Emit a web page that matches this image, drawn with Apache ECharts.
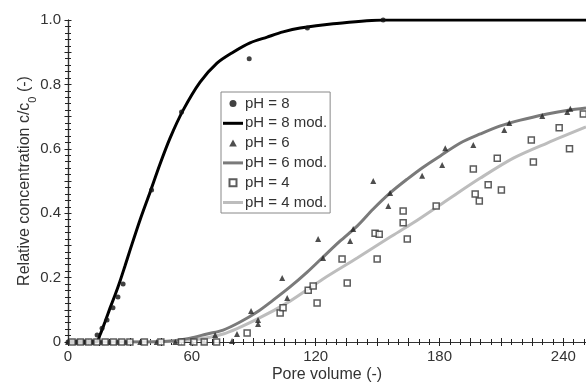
<!DOCTYPE html>
<html>
<head>
<meta charset="utf-8">
<script src="https://cdn.jsdelivr.net/npm/echarts@6/dist/echarts.min.js"></script>
<style>
  html, body { margin: 0; padding: 0; background: #fff; }
  #chart { width: 586px; height: 383px; }
</style>
</head>
<body>
<div id="chart"></div>
<script>
// measured points, pH = 8
const ph8X = [0, 1.5, 3, 4.5, 6, 7.5, 9, 10.5, 12, 14.1, 16.5, 18.9, 21.8, 24.2, 26.7, 40.5, 55, 87.8, 116, 152.7];
const ph8Y = [0, 0, 0, 0, 0, 0, 0, 0, 0, 0.022, 0.043, 0.068, 0.106, 0.14, 0.18, 0.472, 0.714, 0.88, 0.975, 1.0];

// model curve, pH = 8
const ph8ModX = [0, 13.6, 15.5, 17.9, 20.4, 22.8, 25.2, 27.6, 30.1, 34.9, 39.8, 44.6, 49.5, 55.8, 64, 72.2, 80, 88.2, 96.5, 104.2, 112.5, 128.5, 152.7, 185, 251];
const ph8ModY = [0, 0, 0.022, 0.062, 0.106, 0.146, 0.189, 0.236, 0.286, 0.379, 0.466, 0.553, 0.634, 0.72, 0.807, 0.866, 0.9, 0.929, 0.947, 0.963, 0.975, 0.988, 1.0, 1.0, 1.0];

// measured points, pH = 6
const ph6X = [0, 4, 8, 12, 16, 20, 24, 28, 35, 43, 52, 60, 66,
  71.3, 79.5, 81.9, 88.7, 92.1, 92.1, 103.8, 106.2, 121.2, 123.6, 136.7, 138.2,
  147.9, 155.2, 156.1, 171.6, 181.3, 182.8, 196.4, 211.4, 213.8, 229.8, 241.9, 243.4];
const ph6Y = [0, 0, 0, 0, 0, 0, 0, 0, 0, 0, 0, 0, 0,
  0.022, 0.003, 0.025, 0.096, 0.056, 0.068, 0.199, 0.137, 0.32, 0.261, 0.314, 0.351,
  0.5, 0.422, 0.463, 0.516, 0.55, 0.602, 0.612, 0.658, 0.68, 0.702, 0.714, 0.724];

// model curve, pH = 6
const ph6ModX = [0, 35, 49.5, 59.2, 67.4, 75.2, 83.4, 91.6, 99.4, 107.6, 115.9, 123.6, 131.9, 140.1, 147.9, 156.1, 164.4, 172.1, 180.4, 190.1, 199.8, 209.5, 219.2, 232.2, 242.4, 251];
const ph6ModY = [0, 0, 0.003, 0.012, 0.025, 0.037, 0.062, 0.093, 0.13, 0.171, 0.217, 0.264, 0.314, 0.36, 0.413, 0.463, 0.506, 0.543, 0.578, 0.618, 0.646, 0.671, 0.689, 0.708, 0.72, 0.727];

// measured points, pH = 4
const ph4X = [2, 6, 10, 14, 18, 22, 26, 30, 37, 45, 55, 61, 66, 72,
  86.8, 102.8, 104.2, 116.4, 118.8, 120.7, 132.8, 135.3, 148.8, 150.8, 149.8, 162.4, 162.4,
  164.4, 178.4, 196.4, 197.3, 199.3, 203.6, 208, 210, 224.5, 225.5, 238, 243, 249.7];
const ph4Y = [0, 0, 0, 0, 0, 0, 0, 0, 0, 0, 0, 0, 0, 0,
  0.028, 0.09, 0.106, 0.161, 0.174, 0.121, 0.258, 0.183, 0.338, 0.335, 0.258, 0.407, 0.37,
  0.32, 0.422, 0.537, 0.46, 0.438, 0.488, 0.571, 0.472, 0.627, 0.559, 0.665, 0.6, 0.708];

// model curve, pH = 4
const ph4ModX = [0, 39.8, 59.2, 75.2, 91.6, 107.6, 123.6, 140.1, 156.1, 167.3, 183.8, 199.8, 215.8, 232.2, 251];
const ph4ModY = [0, 0, 0.006, 0.025, 0.071, 0.127, 0.196, 0.261, 0.326, 0.37, 0.441, 0.509, 0.571, 0.618, 0.668];

const xLabels = [0, 60, 120, 180, 240];
const yLabels = [0, 0.2, 0.4, 0.6, 0.8, 1.0];

const zip = (xs, ys) => xs.map((x, i) => [x, ys[i]]);

const font = "Liberation Sans, Arial, sans-serif";
const ink = "#333";

const chart = echarts.init(document.getElementById("chart"), null, { renderer: "canvas" });

// legend swatches
const lineIcon = "path://M0,0 L20,0 L20,3 L0,3 Z";
const triIcon = "path://M3,0 L6,5.5 L0,5.5 Z";
const boxIcon = "path://M0,0 L6,0 L6,6 L0,6 Z";

const gridBox = { left: 68, top: 20, right: 0, bottom: 41, containLabel: false, outerBoundsMode: "none" };
const xRange = { type: "value", min: 0, max: 251, interval: 15, splitLine: { show: false } };
const yRange = { type: "value", min: 0, max: 1, interval: 0.1, splitLine: { show: false } };

// outer half of the ticks on the main axes, inner half on a twin axis in grid 1
// (the twin needs its axis line shown, otherwise v6 drops the ticks)
const tickStyle = { color: "#222", width: 1 };

const option = {
  animation: false,
  backgroundColor: "#fff",
  grid: [gridBox, { ...gridBox }],
  xAxis: [
    {
      ...xRange,
      gridIndex: 0,
      name: "Pore volume (-)",
      nameLocation: "middle",
      nameGap: 25,
      nameMoveOverlap: false,
      nameTextStyle: { fontFamily: font, fontSize: 16, color: ink },
      axisLine: { show: true, lineStyle: { color: ink, width: 1.2 } },
      axisTick: { show: true, length: 4, lineStyle: tickStyle },
      minorTick: { show: true, splitNumber: 3, length: 3, lineStyle: tickStyle },
      axisLabel: {
        margin: 7,
        fontFamily: font,
        fontSize: 15,
        color: ink,
        showMaxLabel: false,
        formatter: (v) => (xLabels.includes(v) ? String(v) : ""),
      },
    },
    {
      ...xRange,
      gridIndex: 1,
      position: "bottom",
      axisLine: { show: true, lineStyle: { color: ink, width: 1.2 } },
      axisTick: { show: true, inside: true, length: 4, lineStyle: tickStyle },
      minorTick: { show: true, splitNumber: 3, length: 3, lineStyle: tickStyle },
      axisLabel: { show: false },
    },
  ],
  yAxis: [
    {
      ...yRange,
      gridIndex: 0,
      name: "Relative concentration c/c{sub|0} (-)",
      nameLocation: "middle",
      nameGap: 35,
      nameRotate: 90,
      nameMoveOverlap: false,
      nameTextStyle: {
        fontFamily: font,
        fontSize: 16,
        color: ink,
        rich: {
          sub: { fontFamily: font, fontSize: 11, color: ink, verticalAlign: "bottom", padding: [0, 0, -5, 0] },
        },
      },
      axisLine: { show: true, lineStyle: { color: ink, width: 1.2 } },
      axisTick: { show: true, length: 3.5, lineStyle: tickStyle },
      minorTick: { show: true, splitNumber: 5, length: 3, lineStyle: tickStyle },
      axisLabel: {
        margin: 7,
        fontFamily: font,
        fontSize: 15,
        color: ink,
        formatter: (v) => {
          const r = Math.round(v * 10) / 10;
          if (!yLabels.some((t) => Math.abs(t - r) < 1e-6)) return "";
          return r === 0 ? "0" : r.toFixed(1);
        },
      },
    },
    {
      ...yRange,
      gridIndex: 1,
      position: "left",
      axisLine: { show: true, lineStyle: { color: ink, width: 1.2 } },
      axisTick: { show: true, inside: true, length: 3.5, lineStyle: tickStyle },
      minorTick: { show: true, splitNumber: 5, length: 3, lineStyle: tickStyle },
      axisLabel: { show: false },
    },
  ],
  legend: {
    orient: "vertical",
    left: 221,
    top: 92,
    padding: [4, 3, 3, 2],
    itemGap: 4.8,
    itemWidth: 20,
    itemHeight: 7,
    symbolKeepAspect: true,
    borderColor: "#888",
    borderWidth: 1,
    backgroundColor: "#fff",
    textStyle: { fontFamily: font, fontSize: 15, color: ink, lineHeight: 15, padding: [0, 0, 0, -3] },
    data: [
      { name: "pH = 8", icon: "circle" },
      { name: "pH = 8 mod.", icon: lineIcon },
      { name: "pH = 6", icon: triIcon },
      { name: "pH = 6 mod.", icon: lineIcon },
      { name: "pH = 4", icon: boxIcon },
      { name: "pH = 4 mod.", icon: lineIcon },
    ],
  },
  series: [
    { name: "pH = 8", type: "scatter", data: zip(ph8X, ph8Y), symbol: "circle", symbolSize: 5, itemStyle: { color: "#111" }, clip: false, z: 5 },
    { name: "pH = 8 mod.", type: "line", data: zip(ph8ModX, ph8ModY), showSymbol: false, symbol: "none", smooth: 0.3, lineStyle: { color: "#000", width: 3 }, itemStyle: { color: "#000" }, z: 4 },
    { name: "pH = 6", type: "scatter", data: zip(ph6X, ph6Y), symbol: "triangle", symbolSize: 6, itemStyle: { color: "#222" }, clip: false, z: 5 },
    { name: "pH = 6 mod.", type: "line", data: zip(ph6ModX, ph6ModY), showSymbol: false, symbol: "none", smooth: 0.3, lineStyle: { color: "#7a7a7a", width: 3 }, itemStyle: { color: "#7a7a7a" }, z: 3 },
    { name: "pH = 4", type: "scatter", data: zip(ph4X, ph4Y), symbol: "rect", symbolSize: 6, itemStyle: { color: "#fff", borderColor: "#333", borderWidth: 1.5 }, clip: false, z: 5 },
    { name: "pH = 4 mod.", type: "line", data: zip(ph4ModX, ph4ModY), showSymbol: false, symbol: "none", smooth: 0.3, lineStyle: { color: "#bdbdbd", width: 3 }, itemStyle: { color: "#bdbdbd" }, z: 2 },
  ],
};

chart.setOption(option);
</script>
</body>
</html>
